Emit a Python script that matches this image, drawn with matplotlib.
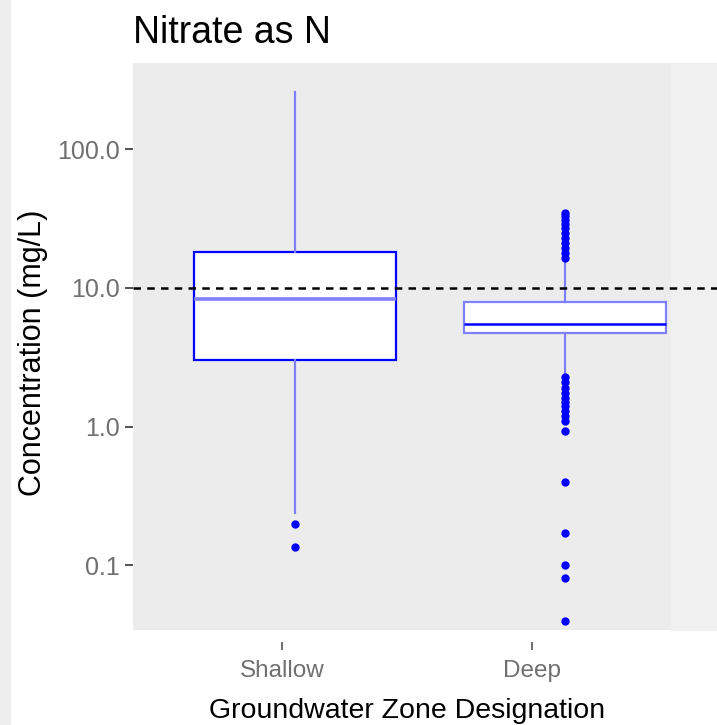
import matplotlib.pyplot as plt
from matplotlib.patches import Rectangle
from matplotlib.ticker import NullLocator

plt.rcParams['font.family'] = ['Liberation Sans', 'DejaVu Sans']

# values (mg/L, log scale)
zones = ['Shallow', 'Deep']
q1 = [3.03, 4.74]
median = [8.3, 5.5]
q3 = [18.2, 7.9]
whisker_low = [0.24, 2.44]
whisker_high = [259.0, 15.4]
shallow_outliers = [0.20, 0.136]
deep_outliers = [35.0, 33.0, 31.0, 29.0, 27.0, 25.0, 23.0, 21.0, 19.5, 18.0, 16.5,
                 2.3, 2.1, 1.9, 1.75, 1.6, 1.5, 1.4, 1.3, 1.2, 1.1, 0.93,
                 0.40, 0.17, 0.10, 0.081, 0.040]
mcl = 10.0
ytick_vals = [0.1, 1, 10, 100]
ytick_labels = ['0.1', '1.0', '10.0', '100.0']

W, H = 717, 725
fig = plt.figure(figsize=(W / 100, H / 100), dpi=100)

# faint strips seen at the edges of the reference
fig.patches.append(Rectangle((0, 0), 10 / W, 1, transform=fig.transFigure,
                             color='#EDEDED', zorder=-1))
fig.patches.append(Rectangle((671 / W, 1 - 630 / H), 46 / W, 567 / H,
                             transform=fig.transFigure, color='#F0F0F0', zorder=-1))

ax = fig.add_axes([133 / W, 1 - 630 / H, 538 / W, 567 / H])
ax.set_facecolor('#ECECEC')
for s in ax.spines.values():
    s.set_visible(False)
ax.set_yscale('log')

stats = []
fliers = [shallow_outliers, deep_outliers]
for i, z in enumerate(zones):
    stats.append({'label': z, 'q1': q1[i], 'med': median[i], 'q3': q3[i],
                  'whislo': whisker_low[i], 'whishi': whisker_high[i],
                  'fliers': fliers[i]})

res = ax.bxp(stats, positions=[1, 2], widths=0.75, patch_artist=True,
             showcaps=False,
             boxprops=dict(facecolor='white', edgecolor='#0000FF', linewidth=1.6),
             whiskerprops=dict(color='#8080FF', linewidth=1.6),
             medianprops=dict(color='#0000FF', linewidth=1.8),
             flierprops=dict(marker='o', markerfacecolor='#0000FF',
                             markeredgecolor='#0000FF', markersize=5))
res['medians'][0].set_color('#8080FF')
res['medians'][0].set_linewidth(2.6)
res['boxes'][1].set_edgecolor('#8080FF')

ax.axhline(mcl, xmin=0, xmax=(717 - 133) / 538, color='black',
           linestyle=(0, (3, 2.5)), linewidth=1.8, clip_on=False, zorder=5)

ax.set_xlim(0.4, 2.393)
ax.set_ylim(0.0342, 419)
ax.set_xticks([])
ax.set_yticks(ytick_vals, ytick_labels)
ax.yaxis.set_minor_locator(NullLocator())
ax.tick_params(axis='y', length=6, width=1.2, color='#333333', pad=3.6,
               labelsize=18, labelcolor='#707070')

# category axis as it appears under the panel
lab = fig.add_axes([133 / W, 1 - 642 / H, 548 / W, 0.4])
lab.patch.set_visible(False)
for s in lab.spines.values():
    s.set_visible(False)
lab.set_xlim(0.4, 2.6)
lab.set_xticks([1, 2], zones)
lab.set_yticks([])
lab.tick_params(axis='x', length=6, width=1.2, color='#555555', pad=7,
                labelsize=17.5, labelcolor='#707070')

fig.text(133 / W, 1 - 43 / H, 'Nitrate as N', ha='left', va='baseline', fontsize=27)
fig.text(407 / W, 1 - 718 / H, 'Groundwater Zone Designation',
         ha='center', va='baseline', fontsize=20.5)
fig.text(33 / W, 1 - 353 / H, 'Concentration (mg/L)', rotation=90,
         ha='center', va='center', fontsize=22)

plt.savefig('out.png', dpi=100)
